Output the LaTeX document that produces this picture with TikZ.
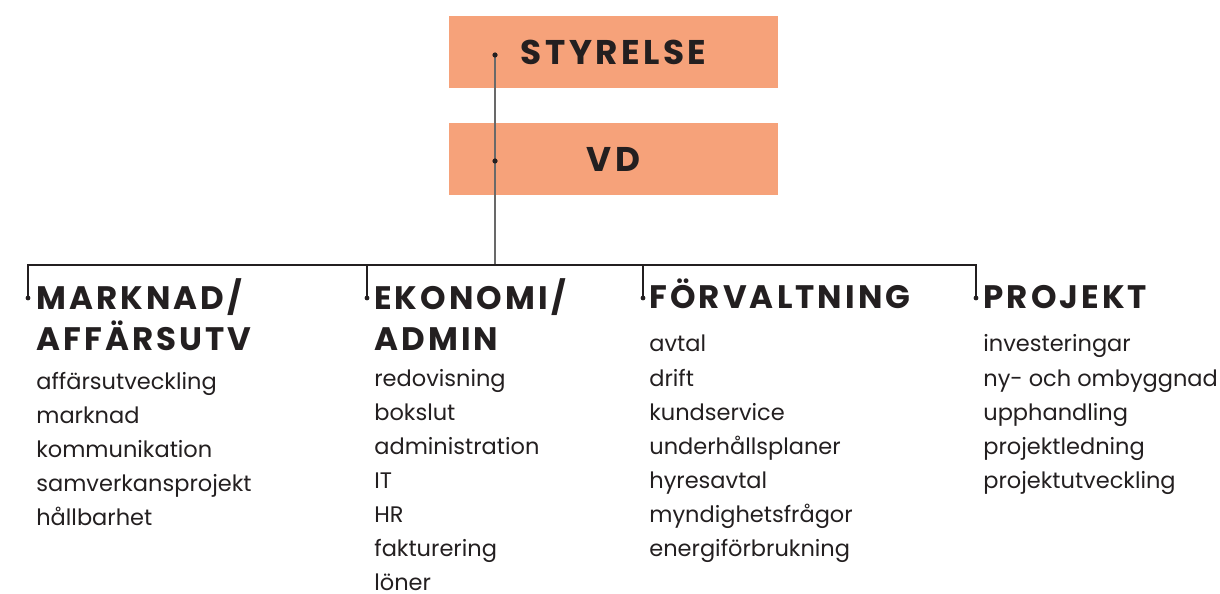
\documentclass[tikz,border=0pt]{standalone}
\usepackage{fontspec}
\setmainfont{Poppins}
\newfontfamily\headfont{Poppins}[LetterSpace=9.5]
\newfontfamily\boxfont{Poppins}[LetterSpace=10]
\usetikzlibrary{positioning}
\definecolor{boxorange}{RGB}{246,162,122}
\definecolor{inkdark}{RGB}{35,31,32}
\definecolor{stemgray}{RGB}{105,105,105}

\begin{document}
\begin{tikzpicture}[x=0.02cm, y=-0.02cm,
    box/.style={fill=boxorange, minimum width=6.58cm, minimum height=1.44cm,
        font=\boxfont\fontsize{19.5}{22}\selectfont\bfseries, text=inkdark},
    head/.style={anchor=base west, align=left, inner sep=0,
        font=\headfont\fontsize{18.5}{23.9}\selectfont\bfseries, text=inkdark},
    item/.style={anchor=base west, inner sep=0,
        font=\fontsize{12.8}{15}\selectfont, text=inkdark},
    dot/.style={fill=inkdark}]
\useasboundingbox (0,0) rectangle (1220,594);

% boxes on top
\node[box] (styrelse) at (613.5,52) {STYRELSE};
\node[box] (vd) at (613.5,159) {VD};

% line down from the boxes
\coordinate (stop) at (495,55);
\coordinate (vdot) at (495,161);
\coordinate (bmid) at (495,265);
\draw[stemgray, line width=1pt] (stop) -- (bmid);
\fill[dot] (stop) circle (2.6);
\fill[dot] (vdot) circle (2.6);

% the four columns
\node[head] (marknad) at (36,351) {MARKNAD/\\AFFÄRSUTV};
\node[head] (ekonomi) at (374,351) {EKONOMI/\\ADMIN};
\node[head] (forv) at (649,309) {FÖRVALTNING};
\node[head] (projekt) at (983,309) {PROJEKT};

\foreach \t [count=\i] in {affärsutveckling, marknad, kommunikation,
    samverkansprojekt, hållbarhet}
  \node[item] (m\i) at (36,355+34*\i) {\t};
\foreach \t [count=\i] in {redovisning, bokslut, administration, IT, HR,
    fakturering, löner}
  \node[item] (e\i) at (374,352+34*\i) {\t};
\foreach \t [count=\i] in {avtal, drift, kundservice, underhållsplaner,
    hyresavtal, myndighetsfrågor, energiförbrukning}
  \node[item] (f\i) at (649,318+34*\i) {\t};
\foreach \t [count=\i] in {investeringar, ny- och ombyggnad, upphandling,
    projektledning, projektutveckling}
  \node[item] (p\i) at (983,318+34*\i) {\t};

% bus line with drops
\coordinate (b1) at (28,265);
\coordinate (b2) at (367,265);
\coordinate (b3) at (643,265);
\coordinate (b4) at (976,265);
\coordinate (d1) at (28,298);
\coordinate (d2) at (367,298);
\coordinate (d3) at (643,298);
\coordinate (d4) at (976,298);
\draw[inkdark, line width=0.8pt] (d1) -- (b1) -- (b4) -- (d4);
\draw[inkdark, line width=0.8pt] (b2) -- (d2);
\draw[inkdark, line width=0.8pt] (b3) -- (d3);
\foreach \d in {d1,d2,d3,d4}
  \fill[dot] (\d) circle (2.4);
\end{tikzpicture}
\end{document}
